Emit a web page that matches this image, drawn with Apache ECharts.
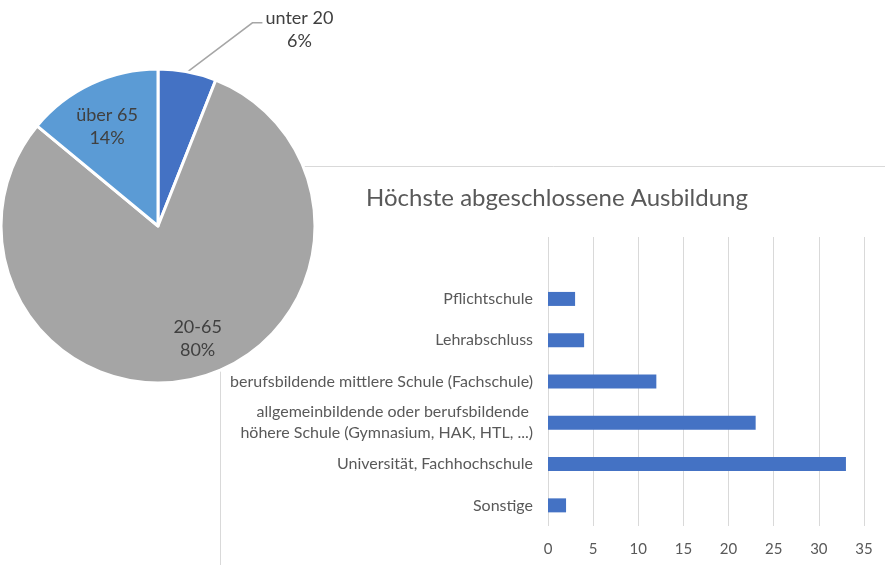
<!DOCTYPE html>
<html>
<head>
<meta charset="utf-8">
<script src="https://cdn.jsdelivr.net/npm/echarts@6/dist/echarts.min.js"></script>
<style>
  html, body { margin: 0; padding: 0; background: #fff; }
  #chart { width: 885px; height: 565px; }
</style>
</head>
<body>
<div id="chart"></div>
<script>
// Age groups (pie)
const ageNames = ['unter 20', '20-65', 'über 65'];
const ageShares = [6, 80, 14];
const ageColors = ['#4472C4', '#A5A5A5', '#5B9BD5'];

// Education (bars) - first category left blank like in the original
const eduNames = [
    '',
    'Pflichtschule',
    'Lehrabschluss',
    'berufsbildende mittlere Schule (Fachschule)',
    'allgemeinbildende oder berufsbildende \nhöhere Schule (Gymnasium, HAK, HTL, ...)',
    'Universität, Fachhochschule',
    'Sonstige'
];
const eduValues = ['-', 3, 4, 12, 23, 33, 2];
const xTicks = { min: 0, max: 35, interval: 5 };

const FONT = 'Lato';
const pieCenter = [158, 226];
const pieRadius = 157;
// where the inside labels sit: fraction of radius, small angle nudge in degrees
const innerLabelRadius = [0, 0.76, 0.71];
const innerLabelNudge = [0, -5, -2];

const chart = echarts.init(document.getElementById('chart'));

// mid angle (deg, clockwise from top) of each slice
function midAngle(idx) {
    const total = ageShares.reduce((a, b) => a + b, 0);
    let before = 0;
    for (let i = 0; i < idx; i++) before += ageShares[i];
    return (before + ageShares[idx] / 2) / total * 360;
}

chart.setOption({
    animation: false,
    textStyle: { fontFamily: FONT },
    title: {
        text: 'Höchste abgeschlossene Ausbildung',
        left: 552,
        top: 181,
        textAlign: 'center',
        textStyle: { fontFamily: FONT, fontSize: 24, fontWeight: 'normal', color: '#595959' }
    },
    // frame of the bar chart area (partly hidden under the pie)
    graphic: [{
        type: 'rect',
        z: 0,
        shape: { x: 220.5, y: 166.5, width: 700, height: 450 },
        style: { fill: 'none', stroke: '#D9D9D9', lineWidth: 1 }
    }],
    grid: { left: 548, right: 21, top: 237, height: 289 },
    xAxis: {
        type: 'value',
        min: xTicks.min,
        max: xTicks.max,
        interval: xTicks.interval,
        axisLine: { show: false },
        axisTick: { show: false },
        axisLabel: { color: '#595959', fontSize: 15, margin: 16 },
        splitLine: { lineStyle: { color: '#D9D9D9', width: 1 } }
    },
    yAxis: {
        type: 'category',
        inverse: true,
        data: eduNames,
        axisLine: { show: false },
        axisTick: { show: false },
        axisLabel: { color: '#595959', fontSize: 16, margin: 15, lineHeight: 21 }
    },
    series: [
        {
            type: 'bar',
            data: eduValues,
            barWidth: 14,
            itemStyle: { color: '#4472C4' }
        },
        {
            type: 'pie',
            z: 5,
            center: pieCenter,
            radius: pieRadius,
            startAngle: 90,
            clockwise: true,
            data: ageNames.map((n, i) => ({
                name: n,
                value: ageShares[i],
                itemStyle: { color: ageColors[i] },
                label: { position: i === 0 ? 'outside' : 'inside' },
                labelLine: { show: i === 0 }
            })),
            itemStyle: { borderColor: '#fff', borderWidth: 3 },
            label: {
                formatter: p => p.name + '\n' + p.value + '%',
                fontSize: 18,
                lineHeight: 23,
                color: '#404040',
                align: 'center'
            },
            labelLine: { lineStyle: { color: '#A6A6A6', width: 1.5 }, length: 20, length2: 10 },
            labelLayout: function (params) {
                if (params.dataIndex === 0) {
                    const start = params.labelLinePoints ? params.labelLinePoints[0] : [187, 70];
                    return {
                        x: start[0] + 112,
                        y: start[1] - 42,
                        align: 'center',
                        verticalAlign: 'middle',
                        labelLinePoints: [start, [start[0] + 65, start[1] - 49], [start[0] + 75, start[1] - 49]]
                    };
                }
                const i = params.dataIndex;
                const a = (midAngle(i) + innerLabelNudge[i]) * Math.PI / 180;
                const rr = pieRadius * innerLabelRadius[i];
                return {
                    x: pieCenter[0] + rr * Math.sin(a),
                    y: pieCenter[1] - rr * Math.cos(a),
                    align: 'center',
                    verticalAlign: 'middle'
                };
            }
        }
    ]
});
</script>
</body>
</html>
